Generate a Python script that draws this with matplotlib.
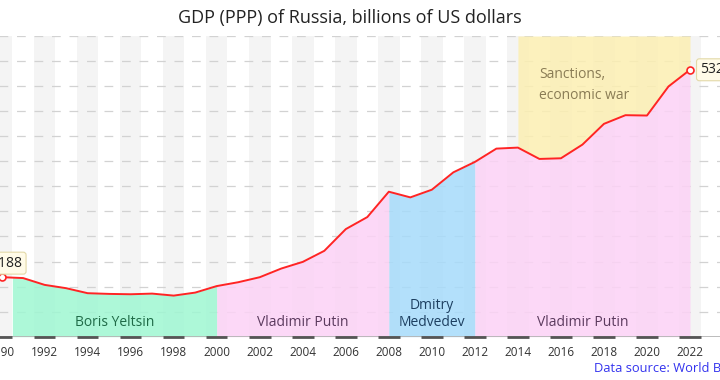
import numpy as np
import matplotlib
matplotlib.use("Agg")
import matplotlib.pyplot as plt

plt.rcParams['font.family'] = ['Open Sans', 'DejaVu Sans']

years = np.arange(1990, 2023)
gdp = [1188, 1170, 1034, 968, 868, 854, 847, 860, 820, 880,
       1010, 1087, 1187, 1360, 1493, 1713, 2147, 2387, 2893, 2780,
       2933, 3280, 3487, 3753, 3773, 3547, 3560, 3833, 4247, 4420,
       4413, 4993, 5326]

periods = [("Boris Yeltsin", 1990.5, 2000, "#9ff7d2", "#1f6b47"),
           ("Vladimir Putin", 2000, 2008, "#fcd2f6", "#5b3a5e"),
           ("Dmitry\nMedvedev", 2008, 2012, "#a6dbfb", "#1d3f60"),
           ("Vladimir Putin", 2012, 2022, "#fcd2f6", "#5b3a5e")]
sanctions = ("Sanctions,\neconomic war", 2014, 2022)
title = "GDP (PPP) of Russia, billions of US dollars"
source = "Data source: World Bank"

W, H = 720, 380
fig = plt.figure(figsize=(7.2, 3.8), dpi=100)
x0, x1 = 1989, 2024
px_1990, px_2022 = 1.6, 690.0
ppy = (px_2022 - px_1990) / 32
left_px = px_1990 - (1990 - x0) * ppy
right_px = px_2022 + (x1 - 2022) * ppy
bot_px, top_px = 336.7, 36.0
ax = fig.add_axes([left_px / W, 1 - bot_px / H, (right_px - left_px) / W, (bot_px - top_px) / H])
ax.set_xlim(x0, x1)
ax.set_ylim(0, 6000)

# stripes
for yr in range(1988, 2026, 2):
    ax.axvspan(yr - 0.5, yr + 0.5, color="#f4f4f4", zorder=0, lw=0)

# gridlines
for v in range(500, 6001, 500):
    ax.axhline(v, color="#d2d2d2", lw=0.9, dashes=(7, 7), zorder=1)

gx = np.linspace(1990, 2022, 3201)
gy = np.interp(gx, years, gdp)
for name, a, b, fc, tc in periods:
    m = (gx >= a - 1e-9) & (gx <= b + 1e-9)
    ax.fill_between(gx[m], 0, gy[m], color=fc, alpha=0.85, lw=0, zorder=2)
    ax.text((a + b) / 2, 290 if "\n" not in name else 450, name, ha="center", va="center",
            fontsize=10, color=tc, zorder=5, linespacing=1.2)

sn, sa, sb = sanctions
m = (gx >= sa) & (gx <= sb)
ax.fill_between(gx[m], gy[m], 6000, color="#fcefb2", alpha=0.85, lw=0, zorder=2)
ax.text(sa + 1, 5020, sn, ha="left", va="center", fontsize=10, color="#8a7c55",
        zorder=5, linespacing=1.5)

# baseline
ax.axhline(0, color="#b5b5b5", lw=2, zorder=3)
for yr in range(1988, 2026, 2):
    ax.plot([yr - 0.5, yr + 0.5], [0, 0], color="#555555", lw=2, zorder=3,
            solid_capstyle="butt", clip_on=False)

ax.plot(years, gdp, color="#ff2424", lw=1.4, zorder=6)
ax.plot([years[0], years[-1]], [gdp[0], gdp[-1]], "o", ms=5, mfc="white",
        mec="#ff2424", mew=1.2, zorder=7)

bbox = dict(boxstyle="round,pad=0.25,rounding_size=0.2", fc="#fffbe8", ec="#e3d9a8", lw=0.8)
ax.annotate(f"{gdp[0]}", (years[0], gdp[0]), xytext=(5, 14), textcoords="offset pixels",
            ha="center", va="center", fontsize=10, color="#222222", bbox=bbox, zorder=8)
ax.annotate(f"{gdp[-1]}", (years[-1], gdp[-1]), xytext=(10, 0), textcoords="offset pixels",
            ha="left", va="center", fontsize=10, color="#222222", bbox=bbox, zorder=8)

for s in ax.spines.values():
    s.set_visible(False)
ax.set_yticks([])
ax.set_xticks(range(1990, 2024, 2))
ax.tick_params(axis="x", length=0, pad=7, labelsize=8.5, labelcolor="#333333")

fig.text(350 / W, 1 - 18 / H, title, ha="center", va="center", fontsize=13, color="#222222")
fig.text(594 / W, 1 - 368 / H, source, ha="left", va="center", fontsize=9.3, color="#3333ee")

fig.savefig("out.png", dpi=100)
